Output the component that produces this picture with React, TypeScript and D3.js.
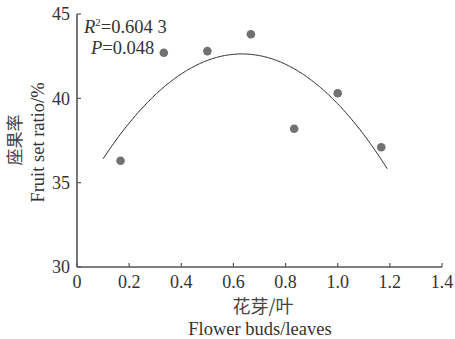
import React from "react";
import * as d3 from "d3";

// Flower buds per leaf and the observed fruit set ratio (%)
const budsPerLeaf = [0.167, 0.333, 0.5, 0.667, 0.833, 1.0, 1.167];
const fruitSet = [36.3, 42.7, 42.8, 43.8, 38.2, 40.3, 37.1];
const xTicks = [0, 0.2, 0.4, 0.6, 0.8, 1.0, 1.2, 1.4];
const yTicks = [30, 35, 40, 45];
const fitRange = [0.1, 1.19];
const statLines = ["R²=0.604 3", "P=0.048"];

const W = 455;
const H = 339;
const M = { left: 77, top: 14, right: 13, bottom: 72 };
const FONT = "'Liberation Serif', 'Times New Roman', serif";
const CJK = "'Noto Sans CJK SC', 'Noto Sans CJK JP', sans-serif";

// Least-squares quadratic y = a + b x + c x^2
function quadFit(xs: number[], ys: number[]) {
  const s = (f: (x: number, y: number) => number) =>
    xs.reduce((acc, x, i) => acc + f(x, ys[i]), 0);
  const n = xs.length;
  const sx = s((x) => x), sx2 = s((x) => x * x), sx3 = s((x) => x ** 3), sx4 = s((x) => x ** 4);
  const sy = s((_, y) => y), sxy = s((x, y) => x * y), sx2y = s((x, y) => x * x * y);
  const A = [
    [n, sx, sx2, sy],
    [sx, sx2, sx3, sxy],
    [sx2, sx3, sx4, sx2y],
  ];
  for (let i = 0; i < 3; i++) {
    for (let k = i + 1; k < 3; k++) {
      const f = A[k][i] / A[i][i];
      for (let j = i; j < 4; j++) A[k][j] -= f * A[i][j];
    }
  }
  const c = A[2][3] / A[2][2];
  const b = (A[1][3] - A[1][2] * c) / A[1][1];
  const a = (A[0][3] - A[0][1] * b - A[0][2] * c) / A[0][0];
  return (x: number) => a + b * x + c * x * x;
}

export default function App() {
  const x = d3.scaleLinear().domain([0, 1.4]).range([M.left, W - M.right]);
  const y = d3.scaleLinear().domain([30, 45]).range([H - M.bottom, M.top]);
  const fit = quadFit(budsPerLeaf, fruitSet);
  const curveX = d3.range(fitRange[0], fitRange[1] + 1e-9, 0.005);
  const line = d3
    .line<number>()
    .x((d) => x(d))
    .y((d) => y(fit(d)));

  const axisColor = "#555";
  const textColor = "#333";
  const cjkColor = "#444";
  const x0 = M.left;
  const yb = H - M.bottom;

  return (
    <svg
      width={W}
      height={H}
      style={{ position: "absolute", left: 0, top: 0, background: "#fff" }}
    >
      {/* fitted curve */}
      <path d={line(curveX) || ""} fill="none" stroke="#2a2a2a" strokeWidth={1} />

      {/* observations */}
      {budsPerLeaf.map((bx, i) => (
        <circle key={i} cx={x(bx)} cy={y(fruitSet[i])} r={4.3} fill="#717171" />
      ))}

      {/* axes */}
      <line x1={x0} x2={x0} y1={M.top} y2={yb} stroke={axisColor} strokeWidth={1.6} />
      <line x1={x0} x2={W - M.right} y1={yb} y2={yb} stroke={axisColor} strokeWidth={1.6} />
      {xTicks.map((t) => (
        <g key={`x${t}`}>
          <line x1={x(t)} x2={x(t)} y1={yb} y2={yb - 4} stroke={axisColor} strokeWidth={1.2} />
          <text
            x={x(t)}
            y={yb + 21}
            textAnchor="middle"
            fontFamily={FONT}
            fontSize={18}
            fill={textColor}
          >
            {t === 0 ? "0" : t.toFixed(1)}
          </text>
        </g>
      ))}
      {yTicks.map((t) => (
        <g key={`y${t}`}>
          <line x1={x0} x2={x0 + 4} y1={y(t)} y2={y(t)} stroke={axisColor} strokeWidth={1.2} />
          <text
            x={x0 - 7}
            y={y(t)}
            dy="0.35em"
            textAnchor="end"
            fontFamily={FONT}
            fontSize={18}
            fill={textColor}
          >
            {t}
          </text>
        </g>
      ))}

      {/* statistics */}
      <text x={84} y={33} fontFamily={FONT} fontSize={18.5} fill={textColor}>
        <tspan fontStyle="italic">R</tspan>
        <tspan fontSize={11} dy={-7}>2</tspan>
        <tspan dy={7}>{statLines[0].slice(2)}</tspan>
      </text>
      <text x={91} y={54} fontFamily={FONT} fontSize={18.5} fill={textColor}>
        <tspan fontStyle="italic">P</tspan>
        <tspan>{statLines[1].slice(1)}</tspan>
      </text>

      {/* axis titles */}
      <text
        transform={`translate(21, 140) rotate(-90)`}
        textAnchor="middle"
        fontFamily={CJK}
        fontSize={17}
        fill={cjkColor}
      >
        座果率
      </text>
      <text
        transform={`translate(44, 142.5) rotate(-90)`}
        textAnchor="middle"
        fontFamily={FONT}
        fontSize={18.5}
        fill={textColor}
      >
        Fruit set ratio/%
      </text>
      <text
        x={263}
        y={313}
        textAnchor="middle"
        fontFamily={CJK}
        fontSize={18}
        fill={cjkColor}
      >
        花芽/叶
      </text>
      <text
        x={260}
        y={335}
        textAnchor="middle"
        fontFamily={FONT}
        fontSize={18.5}
        fill={textColor}
      >
        Flower buds/leaves
      </text>
    </svg>
  );
}
